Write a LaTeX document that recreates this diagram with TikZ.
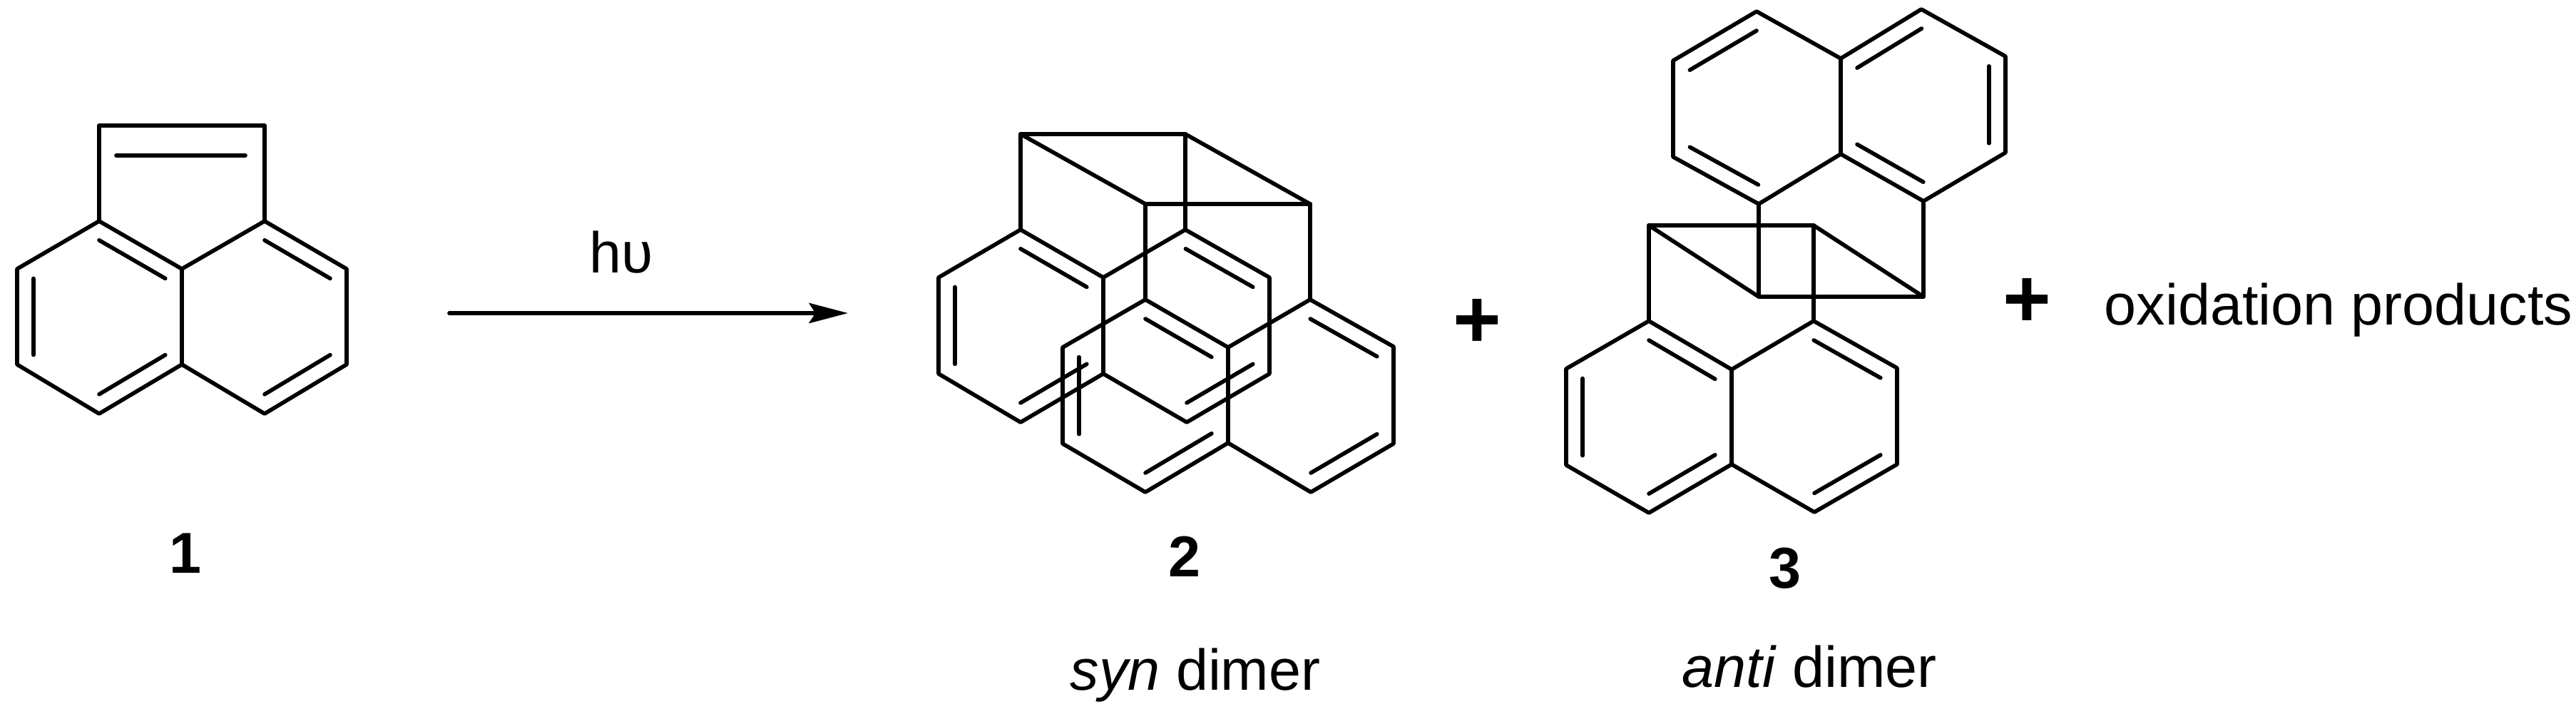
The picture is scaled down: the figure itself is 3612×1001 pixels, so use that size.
\documentclass[tikz,border=0pt]{standalone}
\usepackage{fontspec}
\setmainfont{Liberation Sans}
\usetikzlibrary{ arrows.meta, calc }
\newcommand{\inbond}[3]{\draw[bond] ($(#1)!0.8!(#2)$) -- ($(#1)!0.8!(#3)$);}
\tikzset{
  bond/.style={line width=1.6pt, line cap=round, line join=round}, % every C-C line
  txt/.style={inner sep=0pt, anchor=base, font=\fontsize{23}{27}\selectfont}, % plain labels
  num/.style={inner sep=0pt, anchor=base, font=\fontsize{23}{27}\selectfont\bfseries}, % compound numbers
  plus/.style={inner sep=0pt, font=\fontsize{33}{37}\selectfont\bfseries},
}

\begin{document}
\begin{tikzpicture}[x=0.01cm,y=-0.01cm]%one unit is one pixel of the page
  \useasboundingbox (0,0) rectangle (3612,1001);

  % compound 1
  \foreach \n/\x/\y in {t1/139/176, t2/371/176, c1/139/310, c2/371/310, m1/255/377, m2/255/511,
      l1/24/377, l2/24/511, l3/139/580, r1/486/377, r2/486/511, r3/371/580, cl/139/444, cr/371/444,
      d1/163/218, d2/344/218}
    \coordinate (\n) at (\x,\y);
  \draw[bond] (c1) -- (t1) -- (t2) -- (c2);
  \draw[bond] (c1) -- (m1) -- (c2) -- (r1) -- (r2) -- (r3) -- (m2) -- (l3) -- (l2) -- (l1) -- cycle;
  \draw[bond] (m1) -- (m2);
  \inbond{cl}{c1}{m1}
  \inbond{cl}{l1}{l2}
  \inbond{cl}{l3}{m2}
  \inbond{cr}{c2}{r1}
  \inbond{cr}{r2}{r3}
  \draw[bond] (d1) -- (d2);
  \node[num] (n1) at (260,804) {1};

  % arrow
  \coordinate (arrowa) at (630,439);
  \coordinate (arrowb) at (1189,439);
  \draw[bond, -{Stealth[length=15.5pt, width=8pt, inset=2.5pt]}] (arrowa) -- (arrowb);
  \node[txt, anchor=base west] (hv) at (826,383) {hυ};

  % compound 2, syn dimer
  \foreach \n/\x/\y in {A/1431/188, B/1662/188, C/1606/286, D/1837/286,
      a1/1431/322, a2/1547/389, a3/1662/322, a4/1780/389, a5/1780/524, a6/1664/592, a7/1547/524, a8/1431/592, a9/1316/524, a10/1316/389,
      b1/1606/420, b2/1722/487, b3/1837/420, b4/1954/486, b5/1954/622, b6/1838/690, b7/1722/621, b8/1606/690, b9/1490/622, b10/1490/487,
      ca/1431/456, cb/1664/456, cc/1606/555, cd/1838/555}
    \coordinate (\n) at (\x,\y);
  \draw[bond] (A) -- (B) -- (D) -- (C) -- cycle;
  \draw[bond] (A) -- (a1);
  \draw[bond] (B) -- (a3);
  \draw[bond] (C) -- (b1);
  \draw[bond] (D) -- (b3);
  \draw[bond] (a1) -- (a2) -- (a3) -- (a4) -- (a5) -- (a6) -- (a7) -- (a8) -- (a9) -- (a10) -- cycle;
  \draw[bond] (a2) -- (a7);
  \draw[bond] (b1) -- (b2) -- (b3) -- (b4) -- (b5) -- (b6) -- (b7) -- (b8) -- (b9) -- (b10) -- cycle;
  \draw[bond] (b2) -- (b7);
  \inbond{ca}{a1}{a2}
  \inbond{ca}{a9}{a10}
  \inbond{ca}{a7}{a8}
  \inbond{cb}{a3}{a4}
  \inbond{cb}{a5}{a6}
  \inbond{cc}{b1}{b2}
  \inbond{cc}{b9}{b10}
  \inbond{cc}{b7}{b8}
  \inbond{cd}{b3}{b4}
  \inbond{cd}{b5}{b6}
  \node[num] (n2) at (1661,809) {2};
  \node[txt, anchor=base west] (syn) at (1500,968) {\textit{syn} dimer};
  \node[plus] (plusa) at (2071,453) {+};

  % compound 3, anti dimer
  \foreach \n/\x/\y in {P/2312/316, Q/2543/316, R/2466/416, S/2697/416,
      u1/2463/16, u2/2346/85, u3/2346/220, u4/2466/286, u5/2581/216, u6/2581/82, u7/2694/13, u8/2812/79, u9/2812/214, u10/2697/282,
      v1/2312/450, v2/2428/518, v3/2543/450, v4/2660/516, v5/2660/651, v6/2544/718, v7/2428/651, v8/2312/719, v9/2196/652, v10/2196/517,
      cu/2463/151, cv/2696/148, cw/2312/585, cx/2544/585}
    \coordinate (\n) at (\x,\y);
  \draw[bond] (P) -- (Q) -- (S) -- (R) -- cycle;
  \draw[bond] (P) -- (v1);
  \draw[bond] (Q) -- (v3);
  \draw[bond] (R) -- (u4);
  \draw[bond] (S) -- (u10);
  \draw[bond] (u1) -- (u2) -- (u3) -- (u4) -- (u5) -- (u10) -- (u9) -- (u8) -- (u7) -- (u6) -- cycle;
  \draw[bond] (u5) -- (u6);
  \draw[bond] (v1) -- (v2) -- (v3) -- (v4) -- (v5) -- (v6) -- (v7) -- (v8) -- (v9) -- (v10) -- cycle;
  \draw[bond] (v2) -- (v7);
  \inbond{cu}{u1}{u2}
  \inbond{cu}{u3}{u4}
  \inbond{cv}{u6}{u7}
  \inbond{cv}{u8}{u9}
  \inbond{cv}{u5}{u10}
  \inbond{cw}{v1}{v2}
  \inbond{cw}{v9}{v10}
  \inbond{cw}{v7}{v8}
  \inbond{cx}{v3}{v4}
  \inbond{cx}{v5}{v6}
  \node[num] (n3) at (2503,825) {3};
  \node[txt, anchor=base west] (anti) at (2358,964) {\textit{anti} dimer};
  \node[plus] (plusb) at (2842,424) {+};
  \node[txt, anchor=base west] (oxid) at (2950,456) {oxidation products};
\end{tikzpicture}
\end{document}
